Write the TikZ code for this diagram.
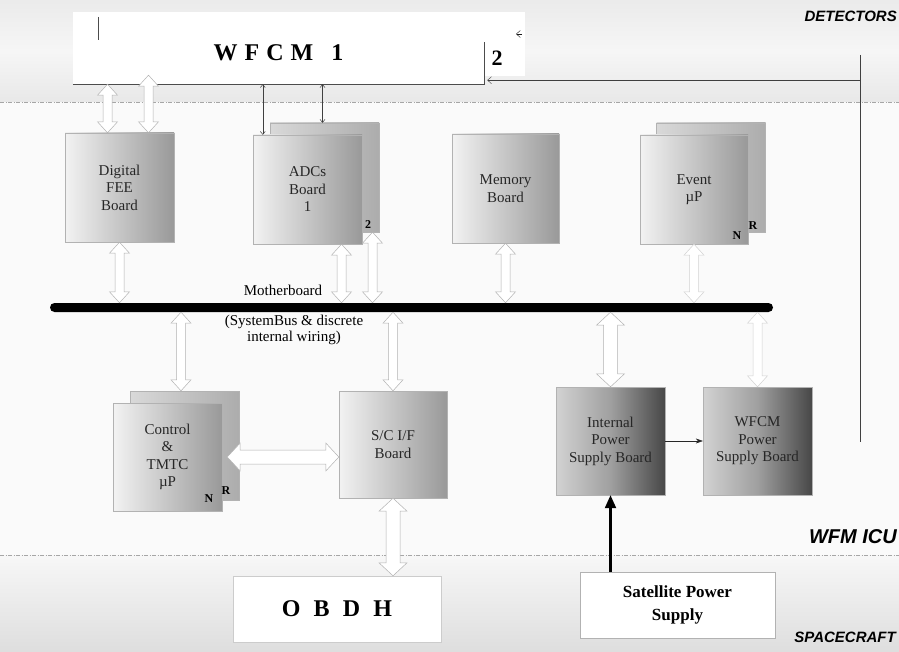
\documentclass[tikz,border=0pt]{standalone}
\usepackage{fontspec}
\setmainfont{Liberation Serif}
\newfontfamily\zonefont{Liberation Sans}
\usetikzlibrary{calc,arrows.meta}
\newcommand\arhl{11pt}
\newcommand\arhw{10pt}
\newcommand\arsw{4.5pt}
\begin{document}
\begin{tikzpicture}[x=1pt,y=-1pt,
        board/.style={draw=gray!60,shading=axis,left color=gray!10,right color=gray!80,minimum width=109,minimum height=109,inner sep=0pt,align=center,text=black!85,font=\fontsize{15}{17.5}\selectfont},
        backboard/.style={board,left color=gray!30,right color=gray!65},
        psboard/.style={board,left color=gray!35,right color=black!72,middle color=gray!75},
        tag/.style={inner sep=0pt,font=\bfseries\fontsize{12}{12}\selectfont},
        zone/.style={anchor=east,inner sep=0pt,font=\zonefont\bfseries\itshape\fontsize{15}{15}\selectfont},
        thinarrow/.style={gray!50!black,line width=0.5pt,{Straight Barb[length=3pt,width=5pt]}-{Straight Barb[length=3pt,width=5pt]}},
        wide/.code={\def\arhl{13pt}\def\arhw{14pt}\def\arsw{7pt}},
        faint/.style={draw=gray!35},
        hollow/.style={draw=gray!60,fill=white,line width=0.5pt,
          to path={--($(\tikztostart)!\arhl!(\tikztotarget)!\arhw!90:(\tikztotarget)$)
            --($(\tikztostart)!\arhl!(\tikztotarget)!\arsw!90:(\tikztotarget)$)
            --($(\tikztotarget)!\arhl!(\tikztostart)!\arsw!-90:(\tikztostart)$)
            --($(\tikztotarget)!\arhl!(\tikztostart)!\arhw!-90:(\tikztostart)$)
            --(\tikztotarget)
            --($(\tikztotarget)!\arhl!(\tikztostart)!\arhw!90:(\tikztostart)$)
            --($(\tikztotarget)!\arhl!(\tikztostart)!\arsw!90:(\tikztostart)$)
            --($(\tikztostart)!\arhl!(\tikztotarget)!\arsw!-90:(\tikztotarget)$)
            --($(\tikztostart)!\arhl!(\tikztotarget)!\arhw!-90:(\tikztotarget)$)
            --cycle}}]
        \useasboundingbox(0,0)rectangle(899,652);
        % zones
        \fill[gray!4](0,0)rectangle(899,652);
        \shade[top color=gray!16,bottom color=gray!18,middle color=gray!7](0,0)rectangle(899,102);
        \shade[top color=gray!6,bottom color=gray!26](0,555)rectangle(899,652);
        \draw[gray!70,dash pattern=on 4pt off 1.5pt on 1pt off 1.5pt](0,102)--(899,102);
        \draw[gray!70,dash pattern=on 4pt off 1.5pt on 1pt off 1.5pt](0,555)--(899,555);
        \node[zone](det)at(897,16){DETECTORS};
        \node[zone,font=\zonefont\bfseries\itshape\fontsize{20}{20}\selectfont](icu)at(897,537){WFM ICU};
        \node[zone](sc)at(896,637){SPACECRAFT};
        % WFCM
        \node[fill=white,minimum width=427,minimum height=64,inner sep=0pt](wfcmb)at(311.5,44){};
        \node[fill=white,minimum width=411,minimum height=72,inner sep=0pt,font=\bfseries\fontsize{24}{24}\selectfont](wfcm)at(278.5,48)
            {\raisebox{-13pt}[0pt][0pt]{W\hspace{7pt}F\hspace{7pt}C\hspace{7pt}M\hspace{18pt}1}};
        \draw[gray!60!black](98,17)--(98,40);
        \draw[gray!60!black](wfcm.south west)--(wfcm.south east)--++(0,-42);
        \node[font=\bfseries\fontsize{22}{22}\selectfont,inner sep=0pt](wfcm2)at(497,58){2};
        % boards
        \node[backboard](adcb)at(324.5,177.5){};
        \node[backboard](evtb)at(711,177.5){};
        \node[backboard](ctrlb)at(185,445.5){};
        \node[board](fee)at(119.5,187.5){Digital\\FEE\\Board};
        \node[board](adc)at(307.5,189.5){ADCs\\Board\\1};
        \node[board,minimum width=107](mem)at(505.5,188.5){Memory\\Board};
        \node[board,minimum width=108](evt)at(694,189.5){Event\\µP};
        \node[board,minimum height=108](ctrl)at(167.5,457){Control\\\&\\TMTC\\µP};
        \node[board,minimum width=108,minimum height=107](scif)at(393,444.5){S/C I/F\\Board};
        \node[psboard,minimum height=108](ipsb)at(610.5,441){Internal\\Power\\Supply Board};
        \node[psboard,minimum height=108](wpsb)at(757.5,441){WFCM\\Power\\Supply Board};
        \node[tag](adc2)at(368,225){2};
        \node[tag](evtn)at(737,236){N};
        \node[tag](evtr)at(753,226){R};
        \node[tag](ctrln)at(209,499){N};
        \node[tag](ctrlr)at(226,491){R};
        % bus
        \node[fill=black,rounded corners=4.5pt,minimum width=723,minimum height=9,inner sep=0pt](bus)at(411.5,307.5){};
        \node[font=\fontsize{15}{15}\selectfont](mb)at(283,290){Motherboard};
        \node[align=center,font=\fontsize{15}{16}\selectfont](sb)at(294,330){(SystemBus \& discrete\\internal wiring)};
        % spacecraft side
        \node[fill=white,draw=gray!40,minimum width=208,minimum height=66,inner sep=0pt,font=\bfseries\fontsize{24}{24}\selectfont](obdh)at(337,609)
            {O\hspace{0.55em}B\hspace{0.55em}D\hspace{0.55em}H};
        \node[fill=white,draw=gray!60,minimum width=195,minimum height=66,inner sep=0pt,align=center,font=\bfseries\fontsize{17}{23}\selectfont](sps)at(677.5,605)
            {Satellite Power\\Supply};
        % connections
        \draw[hollow]([xshift=-12]fee.north|-wfcm.south)to([xshift=-12]fee.north);
        \draw[hollow]([xshift=29,yshift=9]fee.north|-wfcm.south)to([xshift=29]fee.north);
        \draw[thinarrow]([xshift=10]adc.north west|-wfcm.south)--([xshift=10]adc.north west);
        \draw[thinarrow]([xshift=-2]adcb.north|-wfcm.south)--([xshift=-2]adcb.north);
        \draw[hollow](fee.south|-bus.north)to(fee.south);
        \draw[hollow]([xshift=34]adc.south|-bus.north)to([xshift=34]adc.south);
        \draw[hollow]([xshift=48]adcb.south|-bus.north)to([xshift=48]adcb.south);
        \draw[hollow](mem.south|-bus.north)to(mem.south);
        \draw[hollow,faint](evt.south|-bus.north)to(evt.south);
        \draw[hollow]([xshift=-4]ctrlb.north|-bus.south)to([xshift=-4]ctrlb.north);
        \draw[hollow](scif.north|-bus.south)to(scif.north);
        \draw[hollow,wide](ipsb.north|-bus.south)to(ipsb.north);
        \draw[hollow,faint](wpsb.north|-bus.south)to(wpsb.north);
        \draw[hollow,wide](scif.west|-ctrl.east)to([xshift=5]ctrl.east);
        \draw[hollow,wide](scif.south|-obdh.north)to(scif.south);
        \draw[-{Stealth[length=7pt,width=5pt]},gray!30!black](ipsb.east)--(wpsb.west);
        \draw[line width=2.2pt,-{Triangle[length=13pt,width=11pt]}](ipsb.south|-sps.north)--(ipsb.south);
        \coordinate(dtop)at(860,55);
        \coordinate(dbot)at(860,442);
        \draw[gray!50!black](dtop)--(dbot);
        \draw[gray!50!black,-{Straight Barb[length=4pt,width=7pt]}]([yshift=4]dtop|-wfcm.south east)--([xshift=3,yshift=4]wfcm.south east);
        \draw[gray!20!black,-{Straight Barb[length=4pt,width=7pt]}](522,34)--(516,34);
    \end{tikzpicture}
\end{document}
